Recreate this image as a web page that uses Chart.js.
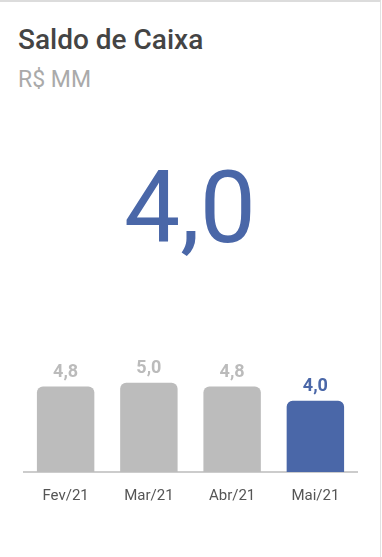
<!DOCTYPE html>
<html>
<head>
<meta charset="utf-8">
<script src="https://cdn.jsdelivr.net/npm/chart.js@4"></script>
<style>
  html, body { margin: 0; padding: 0; background: #fff; }
  body { width: 382px; height: 557px; position: relative; overflow: hidden; font-family: Roboto, sans-serif; }
  .card { position: absolute; left: 0; top: 0; width: 381px; height: 557px; border-top: 2px solid #dcdcdc; border-right: 1px solid #e2e2e2; box-sizing: border-box; }
  .title { position: absolute; left: 18px; top: 21px; font-size: 28px; font-weight: 500; color: #444; }
  .subtitle { position: absolute; left: 18px; top: 64px; font-size: 23px; color: #aaa; }
  .big { position: absolute; left: 0; width: 380px; top: 156px; text-align: center; font-size: 100px; color: #4a67a8; line-height: 1; }
  .chart { position: absolute; left: 0; top: 340px; width: 380px; height: 180px; }
</style>
</head>
<body>
<div class="card">
  <div class="title">Saldo de Caixa</div>
  <div class="subtitle">R$ MM</div>
  <div class="big" id="big"></div>
  <div class="chart"><canvas id="chart"></canvas></div>
</div>
<script>
// dados do gráfico
const meses = ['Fev/21', 'Mar/21', 'Abr/21', 'Mai/21'];
const saldo = [4.8, 5.0, 4.8, 4.0];

const AZUL = '#4a67a8';
const CINZA = '#bcbcbc';

const fmt = v => v.toFixed(1).replace('.', ',');

document.getElementById('big').textContent = fmt(saldo[saldo.length - 1]);

const corBarra = saldo.map((v, i) => i === saldo.length - 1 ? AZUL : CINZA);

// rótulos acima das barras
const valorPlugin = {
    id: 'valores',
    afterDatasetsDraw(chart) {
        const ctx = chart.ctx;
        const meta = chart.getDatasetMeta(0);
        ctx.save();
        ctx.font = 'bold 18px Roboto';
        ctx.textAlign = 'center';
        ctx.textBaseline = 'bottom';
        meta.data.forEach((bar, i) => {
            ctx.fillStyle = i === saldo.length - 1 ? AZUL : '#bbbbbb';
            ctx.fillText(fmt(saldo[i]), bar.x, bar.y - 5);
        });
        ctx.restore();
    }
};

new Chart(document.getElementById('chart'), {
    type: 'bar',
    data: {
        labels: meses,
        datasets: [{
            data: saldo,
            backgroundColor: corBarra,
            borderRadius: { topLeft: 6, topRight: 6 },
            borderSkipped: 'bottom',
            categoryPercentage: 1,
            barPercentage: 0.69
        }]
    },
    options: {
        responsive: true,
        maintainAspectRatio: false,
        animation: false,
        layout: { padding: { left: 24, right: 23, top: 23, bottom: 2 } },
        plugins: {
            legend: { display: false },
            tooltip: { enabled: false }
        },
        scales: {
            y: {
                display: false,
                min: 0,
                max: 6
            },
            x: {
                grid: { display: false, drawTicks: false },
                border: { display: true, color: '#cccccc', width: 2 },
                ticks: {
                    color: '#555',
                    font: { family: 'Roboto', size: 15 },
                    padding: 15
                }
            }
        }
    },
    plugins: [valorPlugin]
});
</script>
</body>
</html>
